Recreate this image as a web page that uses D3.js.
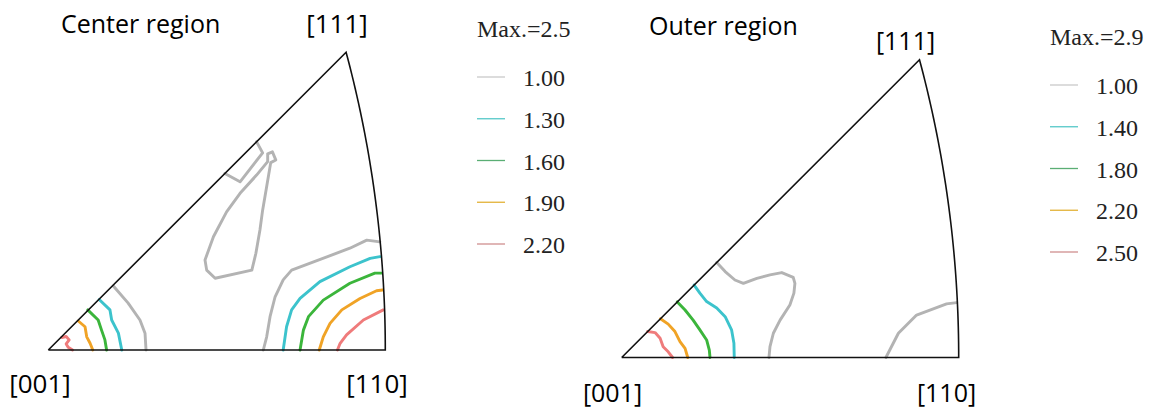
<!DOCTYPE html>
<html><head><meta charset="utf-8">
<script src="https://cdn.jsdelivr.net/npm/d3@7"></script>
<style>html,body{margin:0;padding:0;background:#fff;}svg{display:block;}</style>
</head><body>
<svg id="chart" width="1151" height="408"></svg>
<script>
// ---------- data ----------
const panelTitles = ["Center region", "Outer region"];
const poleLabels = ["[001]", "[110]", "[111]"];
const maxLabels = ["Max.=2.5", "Max.=2.9"];
const centerLevels = [1.00, 1.30, 1.60, 1.90, 2.20];
const outerLevels = [1.00, 1.40, 1.80, 2.20, 2.50];

// contour lines, points in triangle units: u along [001]-[110] (0..1), v perpendicular
const centerL100a = [[0.193,0.190],[0.237,0.139],[0.272,0.089],[0.287,0.050],[0.290,0]];
const centerL130a = [[0.151,0.150],[0.183,0.119],[0.188,0.089],[0.208,0.050],[0.218,0]];
const centerL160a = [[0.117,0.119],[0.148,0.089],[0.158,0.059],[0.168,0.030],[0.173,0]];
const centerL190a = [[0.089,0.086],[0.109,0.069],[0.114,0.039],[0.124,0.020],[0.132,0]];
const centerL220a = [[0.040,0.037],[0.053,0.040],[0.062,0.030],[0.053,0.018],[0.059,0.008],[0.072,0]];
const centerL100b = [[0.984,0.321],[0.945,0.326],[0.895,0.302],[0.722,0.237],[0.697,0.208],[0.673,0.158],[0.658,0.099],[0.648,0.039],[0.638,0]];
const centerL130b = [[0.984,0.277],[0.955,0.272],[0.895,0.247],[0.806,0.203],[0.747,0.153],[0.722,0.119],[0.707,0.069],[0.697,0]];
const centerL160b = [[0.989,0.228],[0.969,0.228],[0.895,0.198],[0.816,0.148],[0.772,0.099],[0.757,0.059],[0.747,0]];
const centerL190b = [[0.992,0.178],[0.974,0.176],[0.925,0.153],[0.871,0.119],[0.836,0.079],[0.816,0.039],[0.804,0]];
const centerL220b = [[0.994,0.119],[0.935,0.089],[0.885,0.045],[0.866,0.020],[0.858,0]];
const centerL100c = [[0.651,0.582],[0.665,0.588],[0.675,0.564],[0.660,0.556],[0.648,0.485],[0.636,0.415],[0.628,0.356],[0.616,0.287],[0.604,0.237],[0.495,0.213],[0.470,0.237],[0.465,0.267],[0.490,0.336],[0.529,0.410],[0.569,0.465],[0.618,0.519],[0.651,0.559],[0.651,0.582]];
const centerL100d = [[0.618,0.618],[0.636,0.585],[0.569,0.499],[0.524,0.524]];

const outerL100a = [[0.282,0.282],[0.307,0.255],[0.336,0.230],[0.361,0.220],[0.401,0.235],[0.440,0.245],[0.475,0.252],[0.509,0.238],[0.514,0.220],[0.511,0.191],[0.499,0.156],[0.470,0.111],[0.450,0.072],[0.440,0.032],[0.437,0]];
const outerL140a = [[0.215,0.215],[0.232,0.191],[0.252,0.166],[0.282,0.147],[0.307,0.121],[0.326,0.082],[0.333,0.042],[0.334,0]];
const outerL180a = [[0.165,0.165],[0.188,0.141],[0.212,0.111],[0.232,0.082],[0.252,0.052],[0.260,0.022],[0.262,0]];
const outerL220a = [[0.115,0.115],[0.138,0.099],[0.158,0.077],[0.173,0.047],[0.188,0.027],[0.196,0]];
const outerL250a = [[0.077,0.077],[0.099,0.074],[0.114,0.057],[0.123,0.032],[0.138,0.017],[0.151,0]];
const outerL100b = [[0.994,0.163],[0.964,0.159],[0.875,0.126],[0.821,0.072],[0.784,0]];

// ---------- style ----------
const lineColors = ["#b3b3b3", "#3cc3cc", "#3bb53b", "#f0a326", "#ef7b7b"];
const legendColors = ["#c9c9c9", "#55c8c8", "#5aae74", "#e2b236", "#cf8e8e"];

const panels = [
  { title: panelTitles[0], levels: centerLevels, maxLabel: maxLabels[0],
    ox: 48.3, oy: 350, titleX: 61, titleY: 33, labelSize: 26,
    p111: [337, 33], p001: [40, 393], p110: [377, 393],
    legX: 477, legMaxY: 37, legY0: 77, legY1: 244,
    lines: [[centerL100a,0],[centerL130a,1],[centerL160a,2],[centerL190a,3],[centerL220a,4],
            [centerL100b,0],[centerL130b,1],[centerL160b,2],[centerL190b,3],[centerL220b,4],
            [centerL100c,0],[centerL100d,0]] },
  { title: panelTitles[1], levels: outerLevels, maxLabel: maxLabels[1],
    ox: 621.7, oy: 357.5, titleX: 649, titleY: 35, labelSize: 25,
    p111: [905.5, 50], p001: [612.5, 402], p110: [946.5, 402],
    legX: 1050, legMaxY: 45, legY0: 85, legY1: 252,
    lines: [[outerL100a,0],[outerL140a,1],[outerL180a,2],[outerL220a,3],[outerL250a,4],[outerL100b,0]] }
];

const svg = d3.select("#chart");
const side = 337;                       // px length of [001]-[110] edge
const r110 = Math.tan(Math.PI / 8);     // stereographic radius of edge end
const apexU = (Math.tan(Math.acos(1/Math.sqrt(3))/2) / Math.SQRT2) / r110;
const arcC = -1 / r110, arcR = Math.SQRT2 / r110;

panels.forEach(p => {
  const x = d3.scaleLinear().domain([0, 1]).range([p.ox, p.ox + side]);
  const y = d3.scaleLinear().domain([0, 1]).range([p.oy, p.oy - side]);
  const g = svg.append("g");
  const line = d3.line().x(d => x(d[0])).y(d => y(d[1]));

  // contour lines
  g.selectAll("path.c").data(p.lines).join("path")
    .attr("d", d => line(d[0]))
    .attr("fill", "none")
    .attr("stroke", d => lineColors[d[1]])
    .attr("stroke-width", 2.9)
    .attr("stroke-linejoin", "round").attr("stroke-linecap", "round");

  // triangle boundary
  const aStart = Math.atan2(apexU, apexU - arcC);
  const arcPts = d3.range(0, 41).map(i => {
    const a = aStart * (1 - i / 40);
    return [arcC + arcR * Math.cos(a), arcR * Math.sin(a)];
  });
  const boundary = [[0, 0]].concat(arcPts).concat([[0, 0]]);
  g.append("path").attr("d", line(boundary))
    .attr("fill", "none").attr("stroke", "#111").attr("stroke-width", 1.6)
    .attr("stroke-linejoin", "miter");

  // labels
  const sans = "'Open Sans', 'Noto Sans', sans-serif";
  g.append("text").attr("x", p.titleX).attr("y", p.titleY).text(p.title)
    .attr("font-family", sans).attr("font-size", 25).attr("fill", "#000");
  [[poleLabels[2], p.p111], [poleLabels[0], p.p001], [poleLabels[1], p.p110]].forEach(([t, pos]) => {
    g.append("text").attr("x", pos[0]).attr("y", pos[1]).text(t)
      .attr("text-anchor", "middle").attr("font-family", sans)
      .attr("font-size", p.labelSize).attr("fill", "#000");
  });

  // legend
  const serif = "'Liberation Serif', 'Times New Roman', serif";
  g.append("text").attr("x", p.legX).attr("y", p.legMaxY).text(p.maxLabel)
    .attr("font-family", serif).attr("font-size", 24).attr("fill", "#222");
  const ly = d3.scalePoint().domain(p.levels).range([p.legY0, p.legY1]);
  const lg = g.selectAll("g.leg").data(p.levels).join("g");
  lg.append("line").attr("x1", p.legX).attr("x2", p.legX + 28)
    .attr("y1", d => ly(d)).attr("y2", d => ly(d))
    .attr("stroke", (d, i) => legendColors[i]).attr("stroke-width", 1.3);
  lg.append("text").attr("x", p.legX + 46).attr("y", d => ly(d) + 9)
    .text(d => d.toFixed(2))
    .attr("font-family", serif).attr("font-size", 24).attr("fill", "#222");
});
</script>
</body></html>
